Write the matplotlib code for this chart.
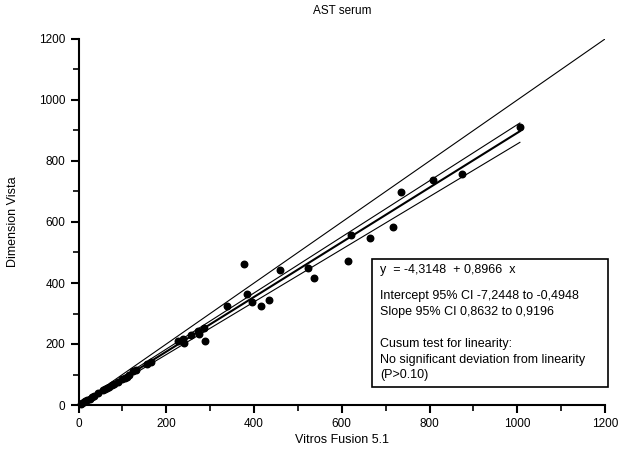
import numpy as np
import matplotlib
matplotlib.use("Agg")
import matplotlib.pyplot as plt
from matplotlib.patches import Rectangle
from matplotlib.ticker import MultipleLocator

plt.rcParams['font.family'] = ['Liberation Sans', 'DejaVu Sans']

# data
vitros = [5, 8, 12, 15, 20, 25, 30, 35, 45, 55, 60, 65, 70, 75, 80, 90,
          100, 105, 110, 115, 125, 130, 155, 165,
          227, 237, 240, 257, 272, 274, 287, 289, 339, 377, 385, 395, 416,
          433, 458, 524, 536, 614, 622, 664, 716, 736, 808, 874, 1006]
vista = [4, 6, 10, 12, 17, 20, 25, 30, 38, 48, 52, 56, 60, 64, 70, 76,
         85, 88, 93, 98, 110, 115, 136, 140,
         210, 217, 203, 230, 244, 234, 254, 210, 325, 461, 363, 337, 326,
         345, 442, 450, 416, 473, 558, 548, 582, 699, 739, 756, 910]

intercept = -4.3148
slope = 0.8966
ci_intercept = (-7.2448, -0.4948)
ci_slope = (0.8632, 0.9196)

box_lines = ["y  = -4,3148  + 0,8966  x",
             "Intercept 95% CI -7,2448 to -0,4948",
             "Slope 95% CI 0,8632 to 0,9196",
             "Cusum test for linearity:",
             "No significant deviation from linearity",
             "(P>0.10)"]
box_y_px = [270, 296, 312, 344, 360, 375]

W, H = 618, 459
fig = plt.figure(figsize=(W / 100, H / 100), dpi=100)
ax = fig.add_axes([78.6 / W, 1 - 405 / H, (605 - 78.6) / W, (405 - 39) / H])

# identity line
ax.plot([0, 1200], [0, 1200], color='black', lw=0.8)
# regression and CI lines
xr = np.array([0, max(vitros)])
ax.plot(xr, intercept + slope * xr, color='black', lw=1.5)
ax.plot(xr, ci_intercept[1] + ci_slope[1] * xr, color='black', lw=0.8)
ax.plot(xr, ci_intercept[0] + ci_slope[0] * xr, color='black', lw=0.8)

ax.scatter(vitros, vista, s=22, color='black', zorder=3, clip_on=False)

ax.set_xlim(0, 1200)
ax.set_ylim(0, 1200)
ax.spines['top'].set_visible(False)
ax.spines['right'].set_visible(False)
ax.spines['left'].set_linewidth(1.5)
ax.spines['bottom'].set_linewidth(1.5)
ax.xaxis.set_major_locator(MultipleLocator(200))
ax.xaxis.set_minor_locator(MultipleLocator(100))
ax.yaxis.set_major_locator(MultipleLocator(200))
ax.yaxis.set_minor_locator(MultipleLocator(100))
ax.tick_params(which='major', length=6, width=1.5, labelsize=8.5)
ax.tick_params(which='minor', length=4, width=1.2)
ax.set_xlabel("Vitros Fusion 5.1", fontsize=9, labelpad=3)
ax.set_ylabel("Dimension Vista", fontsize=9, labelpad=14)
ax.set_title("AST serum", fontsize=8.5, pad=18)

# text box with the regression results
fig.patches.append(Rectangle((372 / W, 1 - 387 / H), (608 - 372) / W, (387 - 259) / H,
                             transform=fig.transFigure, facecolor='white',
                             edgecolor='black', lw=1.2, zorder=5))
for txt, yp in zip(box_lines, box_y_px):
    fig.text(380 / W, 1 - yp / H, txt, fontsize=9, va='center', ha='left', zorder=6)

fig.savefig("out.png", dpi=100)
